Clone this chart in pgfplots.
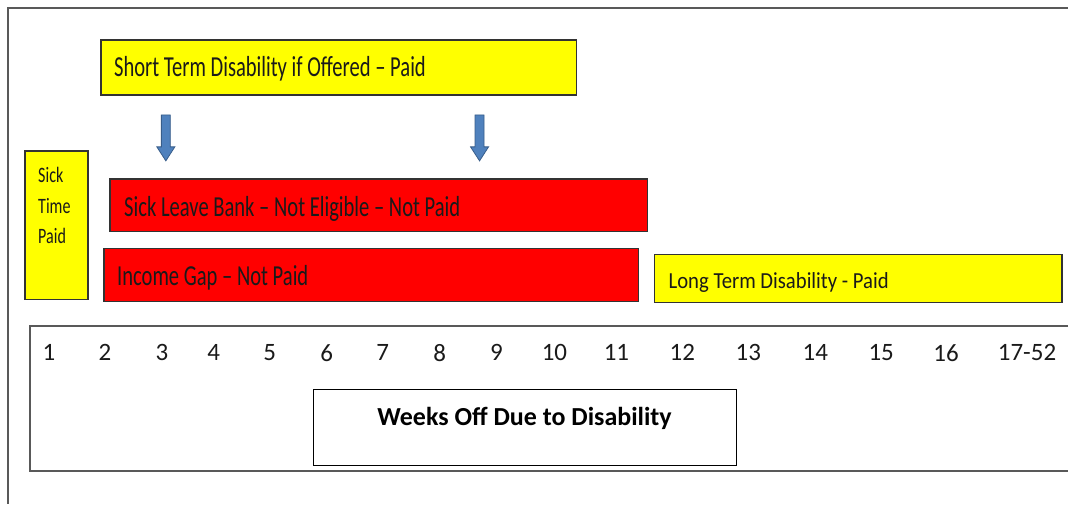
\documentclass[border=0pt]{standalone}
\usepackage{fontspec}
\setmainfont{Carlito}
\usepackage{graphicx}
\usepackage{pgfplots}
\usepackage{pgfplotstable}
\pgfplotsset{compat=1.18}
\definecolor{boxyellow}{HTML}{FFFF00}
\definecolor{boxred}{HTML}{FF0000}
\definecolor{arrowblue}{HTML}{4F81BD}
\definecolor{arrowedge}{HTML}{385D8A}
\definecolor{framegray}{HTML}{595959}
\definecolor{txt}{HTML}{1A1A1A}

\pgfplotstableread{
x y label
49 353 1
105 353 2
162 353 3
214 353 4
270 353 5
327 353 6
383 353 7
440 353 8
497 353 9
555 353 10
617 353 11
683 353 12
749 353 13
816 353 14
882 353 15
947 353 16
1028 353 17-52
}\weeks

\begin{document}
\begin{tikzpicture}
\begin{axis}[
  scale only axis,
  width=801.75pt, height=378pt,
  xmin=0, xmax=1069, ymin=0, ymax=504,
  y dir=reverse,
  axis lines=none,
  clip=false,
]
% background (keeps the full page)
\addplot [fill=white, draw=none] coordinates {(0,0) (1069,0) (1069,504) (0,504)} -- cycle;
% outer frame
\addplot [draw=framegray, line width=1.3pt, line cap=butt] coordinates {(8,504) (8,8) (1069,8)};
% week scale box
\addplot [draw=framegray, line width=1.5pt, line cap=butt] coordinates {(1069,326) (30,326) (30,471) (1069,471)};
% boxes
\addplot [fill=boxyellow, draw=black!80, line width=1pt] coordinates {(101,40) (577,40) (577,95) (101,95)} -- cycle;
\addplot [fill=boxyellow, draw=black!80, line width=1pt] coordinates {(25,151) (88,151) (88,300) (25,300)} -- cycle;
\addplot [fill=boxred, draw=black!80, line width=1pt] coordinates {(110,179) (648,179) (648,232) (110,232)} -- cycle;
\addplot [fill=boxred, draw=black!80, line width=1pt] coordinates {(104,249) (639,249) (639,302) (104,302)} -- cycle;
\addplot [fill=boxyellow, draw=black!80, line width=1pt] coordinates {(655,255) (1063,255) (1063,303) (655,303)} -- cycle;
\addplot [fill=white, draw=black, line width=1pt] coordinates {(314,390) (737,390) (737,466) (314,466)} -- cycle;
% arrows
\addplot [fill=arrowblue, draw=arrowedge, line width=0.6pt] coordinates {(161.5,115) (170.5,115) (170.5,147) (175,147) (166,161) (157,147) (161.5,147)} -- cycle;
\addplot [fill=arrowblue, draw=arrowedge, line width=0.6pt] coordinates {(475.5,115) (484.5,115) (484.5,147) (489,147) (480,161) (471,147) (475.5,147)} -- cycle;
% week labels
\addplot [draw=none, mark=none, nodes near coords, point meta=explicit symbolic,
  every node near coord/.append style={anchor=center, inner sep=0pt, text=txt,
    font=\fontsize{18.75}{22}\selectfont}]
  table [x=x, y=y, meta=label] {\weeks};
% texts
\node[anchor=base west, inner sep=0pt, text=txt, font=\fontsize{21.75}{26}\selectfont]
  at (axis cs:114,77) {\scalebox{0.71}[1]{Short Term Disability if Offered – Paid}};
\node[anchor=base west, inner sep=0pt, text=txt, font=\fontsize{21.75}{26}\selectfont]
  at (axis cs:124,217) {\scalebox{0.71}[1]{Sick Leave Bank – Not Eligible – Not Paid}};
\node[anchor=base west, inner sep=0pt, text=txt, font=\fontsize{21.75}{26}\selectfont]
  at (axis cs:117,286) {\scalebox{0.71}[1]{Income Gap – Not Paid}};
\node[anchor=base west, inner sep=0pt, text=txt, font=\fontsize{17.25}{21}\selectfont]
  at (axis cs:669,289) {\scalebox{0.9}[1]{Long Term Disability - Paid}};
\node[anchor=base west, inner sep=0pt, text=txt, font=\fontsize{16.5}{20}\selectfont]
  at (axis cs:38,183) {\scalebox{0.73}[1]{Sick}};
\node[anchor=base west, inner sep=0pt, text=txt, font=\fontsize{16.5}{20}\selectfont]
  at (axis cs:38,214) {\scalebox{0.73}[1]{Time}};
\node[anchor=base west, inner sep=0pt, text=txt, font=\fontsize{16.5}{20}\selectfont]
  at (axis cs:38,244) {\scalebox{0.73}[1]{Paid}};
\node[anchor=center, inner sep=0pt, text=black, font=\bfseries\fontsize{19.5}{23}\selectfont]
  at (axis cs:525,419) {Weeks Off Due to Disability};
\end{axis}
\end{tikzpicture}
\end{document}
